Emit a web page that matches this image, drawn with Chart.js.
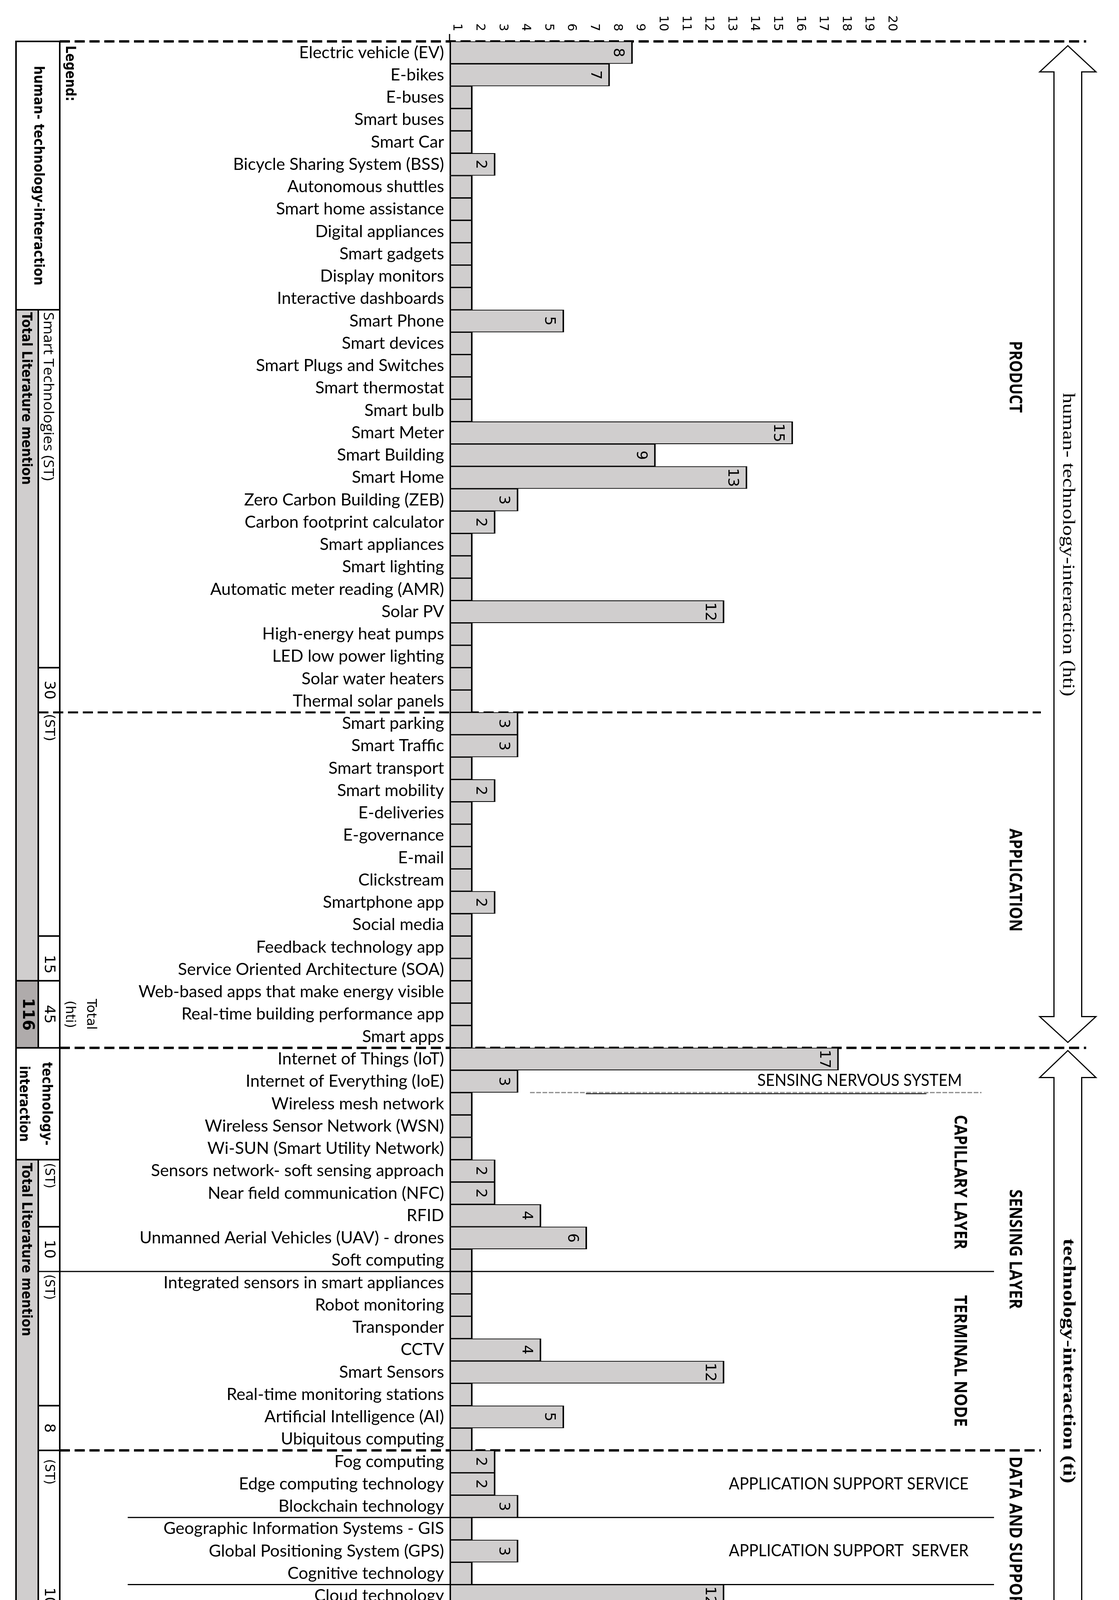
<!DOCTYPE html>
<html><head><meta charset="utf-8">
<script src="https://cdn.jsdelivr.net/npm/chart.js@4.4.1/dist/chart.umd.min.js"></script>
<style>html,body{margin:0;padding:0;background:#fff;}canvas{display:block;}</style>
</head><body>
<canvas id="c" width="2865" height="5693" style="width:2865px;height:5693px"></canvas>
<script>
// ---------------- DATA ----------------
const productLabels = ["Electric vehicle (EV)","E-bikes","E-buses","Smart buses","Smart Car","Bicycle Sharing System (BSS)","Autonomous shuttles","Smart home assistance","Digital appliances","Smart gadgets","Display monitors","Interactive dashboards","Smart Phone","Smart devices","Smart Plugs and Switches","Smart thermostat","Smart bulb","Smart Meter","Smart Building","Smart Home","Zero Carbon Building (ZEB)","Carbon footprint calculator","Smart appliances","Smart lighting","Automatic meter reading (AMR)","Solar PV","High-energy heat pumps","LED low power lighting","Solar water heaters","Thermal solar panels"];
const productValues = [8,7,1,1,1,2,1,1,1,1,1,1,5,1,1,1,1,15,9,13,3,2,1,1,1,12,1,1,1,1];

const applicationLabels = ["Smart parking","Smart Traffic","Smart transport","Smart mobility","E-deliveries","E-governance","E-mail","Clickstream","Smartphone app","Social media","Feedback technology app","Service Oriented Architecture (SOA)","Web-based apps that make energy visible","Real-time building performance app","Smart apps"];
const applicationValues = [3,3,1,2,1,1,1,1,2,1,1,1,1,1,1];

const capillaryLabels = ["Internet of Things (IoT)","Internet of Everything (IoE)","Wireless mesh network","Wireless Sensor Network (WSN)","Wi-SUN (Smart Utility Network)","Sensors network- soft sensing approach","Near field communication (NFC)","RFID","Unmanned Aerial Vehicles (UAV) - drones","Soft computing"];
const capillaryValues = [17,3,1,1,1,2,2,4,6,1];

const terminalLabels = ["Integrated sensors in smart appliances","Robot monitoring","Transponder","CCTV","Smart Sensors","Real-time monitoring stations","Artificial Intelligence (AI)","Ubiquitous computing"];
const terminalValues = [1,1,1,4,12,1,5,1];

const supportServiceLabels = ["Fog computing","Edge computing technology","Blockchain technology"];
const supportServiceValues = [2,2,3];
const supportServerLabels = ["Geographic Information Systems - GIS","Global Positioning System (GPS)","Cognitive technology"];
const supportServerValues = [1,3,1];
const processServiceLabels = ["Cloud technology","Big Data","Big Data analytics","Machine learning and Data mining"];
const processServiceValues = [12,10,1,1];

const systemLabels = ["Smart Grid","Building Energy Management System (BEMS)","Energy Management System (EMS)","Home Energy Management System (HEMS)","Advance metering infrastructure (AMI)","Smart Energy Management System","Smart Thermal Management","Renewal Energy System","Smart Power Strorage","Smart Power Generation","Smart Wind Power","Solar thermal and hydro","Smart environmental monitoring","Smart infrastructure","Charging infrastructure"];
const systemValues = [21,3,2,2,1,1,1,1,1,1,1,1,1,2,1];

const networkLabels = ["Wifi","5G","Beyond 5G (B5G)"];
const networkValues = [6,3,1];
const ictLabels = ["ICT"];
const ictValues = [10];
const blankLabels = ["",""];
const blankValues = [null,null];

const xTickLabels = ["1","2","3","4","5","6","7","8","9","10","11","12","13","14","15","16","17","18","19","20"];

// table figures
const htiTable = ["30","15","45","116"];
const tiTable = ["10","8","10","28","100"];
const esmTable = ["15","40"];
const netTable = ["3","10"];
const ictTable = ["1","10"];
const grandTable = ["92","276"];

// ---------------- BUILD ----------------
const labels = [].concat(productLabels, applicationLabels, capillaryLabels, terminalLabels,
  supportServiceLabels, supportServerLabels, processServiceLabels, systemLabels, networkLabels, ictLabels, blankLabels);
const values = [].concat(productValues, applicationValues, capillaryValues, terminalValues,
  supportServiceValues, supportServerValues, processServiceValues, systemValues, networkValues, ictValues, blankValues);

const iA = productLabels.length;
const iS = iA + applicationLabels.length;
const iT = iS + capillaryLabels.length;
const iD = iT + terminalLabels.length;
const iD2 = iD + supportServiceLabels.length;
const iD3 = iD2 + supportServerLabels.length;
const iM = iD3 + processServiceLabels.length;
const iN = iM + systemLabels.length;
const iI = iN + networkLabels.length;
const iE = iI + ictLabels.length;
const iBot = labels.length;

const BAR_FILL = '#D0CECE', LIGHT = '#D0CECE', DARK = '#AFABAB';
const LABEL_FONT = 'Lato';

function rt(ctx, text, cx, cy, font, len) {
  ctx.save(); ctx.translate(cx, cy); ctx.rotate(Math.PI / 2);
  ctx.font = font; ctx.fillStyle = '#000';
  ctx.textAlign = 'center'; ctx.textBaseline = 'middle';
  if (len) { const w = ctx.measureText(text).width; ctx.scale(len / w, 1); }
  ctx.fillText(text, 0, 0); ctx.restore();
}
function ht(ctx, text, x0, cy, font, len) {
  ctx.save(); ctx.font = font; ctx.fillStyle = '#000';
  ctx.textAlign = 'left'; ctx.textBaseline = 'middle';
  const w = ctx.measureText(text).width;
  ctx.translate(x0, cy); if (len) ctx.scale(len / w, 1);
  ctx.fillText(text, 0, 0); ctx.restore();
}
function line(ctx, x1, y1, x2, y2, w, dash, color) {
  ctx.save(); ctx.beginPath(); ctx.lineWidth = w; ctx.strokeStyle = color || '#000';
  ctx.setLineDash(dash || []); ctx.moveTo(x1, y1); ctx.lineTo(x2, y2); ctx.stroke(); ctx.restore();
}
function arrow(ctx, xc, tipTop, baseTop, baseBot, tipBot) {
  const hh = 72, sh = 35.5;
  ctx.save(); ctx.beginPath();
  ctx.moveTo(xc, tipTop); ctx.lineTo(xc + hh, baseTop); ctx.lineTo(xc + sh, baseTop);
  ctx.lineTo(xc + sh, baseBot); ctx.lineTo(xc + hh, baseBot); ctx.lineTo(xc, tipBot);
  ctx.lineTo(xc - hh, baseBot); ctx.lineTo(xc - sh, baseBot); ctx.lineTo(xc - sh, baseTop);
  ctx.lineTo(xc - hh, baseTop); ctx.closePath();
  ctx.fillStyle = '#fff'; ctx.fill(); ctx.lineWidth = 3; ctx.strokeStyle = '#000'; ctx.stroke();
  ctx.restore();
}

const L = 41, M = 98, R = 153;
const DASH = [26, 12];

const decor = {
  id: 'decor',
  beforeDatasetsDraw(chart) {
    const ctx = chart.ctx, ys = chart.scales.y, xs = chart.scales.x;
    const rowH = ys.getPixelForValue(1) - ys.getPixelForValue(0);
    const B = i => ys.getPixelForValue(i) - rowH / 2;
    const gtBot = B(iBot) + 167;
    ctx.fillStyle = LIGHT; ctx.fillRect(L, B(12), M - L, B(iS - 3) - B(12));
    ctx.fillStyle = DARK;  ctx.fillRect(L, B(iS - 3), M - L, B(iS) - B(iS - 3));
    ctx.fillStyle = LIGHT; ctx.fillRect(L, B(iS + 5), M - L, B(iM - 3) - B(iS + 5));
    ctx.fillStyle = DARK;  ctx.fillRect(L, B(iM - 3), M - L, B(iM) - B(iM - 3));
    ctx.fillStyle = LIGHT; ctx.fillRect(L, B(iM + 6), M - L, B(iN - 2) - B(iM + 6));
    ctx.fillStyle = DARK;  ctx.fillRect(L, B(iN - 2), M - L, B(iBot) - B(iN - 2));
    ctx.fillStyle = LIGHT; ctx.fillRect(L, B(iBot), M - L, gtBot - B(iBot));
    [0, 12, iS - 3, iS, iS + 5, iM - 3, iM, iM + 6, iN - 2, iN, iI, iE, iBot].forEach(i => line(ctx, L - 2, B(i), R + 2, B(i), 4));
    line(ctx, L - 2, gtBot, R + 2, gtBot, 4);
    [iA - 2, iS - 5, iT - 2, iT + 6, iD].forEach(i => line(ctx, M, B(i), R, B(i), 4));
    line(ctx, L, B(0) - 2, L, gtBot + 2, 4);
    line(ctx, R, B(0) - 2, R, gtBot + 2, 4);
    line(ctx, M, B(12), M, B(iS), 4);
    line(ctx, M, B(iS + 5), M, B(iM), 4);
    line(ctx, M, B(iM + 6), M, gtBot, 4);
    const full = 2781, part = 2665;
    line(ctx, R, B(0), full, B(0), 6, DASH);
    line(ctx, M, B(iA), part, B(iA), 5, DASH);
    line(ctx, R, B(iS), full, B(iS), 6, DASH);
    line(ctx, R, B(iD), part, B(iD), 6, DASH);
    line(ctx, R, B(iM), full, B(iM), 6, DASH);
    line(ctx, R, B(iN), full, B(iN), 6, DASH);
    line(ctx, R, B(iI), part, B(iI), 6, DASH);
    line(ctx, R, B(iBot), full, B(iBot), 6, DASH);
    line(ctx, M, B(iT), 2545, B(iT), 3);
    line(ctx, 327, B(iD2), 2545, B(iD2), 3);
    line(ctx, 327, B(iD3), 2545, B(iD3), 3);
    line(ctx, 1500, B(iS + 2) + 3, 2372, B(iS + 2) + 3, 2);
    line(ctx, 1357, B(iS + 2), 2513, B(iS + 2), 3, [12, 4], '#888');
    const x0 = xs.getPixelForValue(0);
    line(ctx, x0, 87, x0, B(0), 3);
  },
  afterDatasetsDraw(chart) {
    const ctx = chart.ctx, ys = chart.scales.y, xs = chart.scales.x;
    const rowH = ys.getPixelForValue(1) - ys.getPixelForValue(0);
    const B = i => ys.getPixelForValue(i) - rowH / 2;
    const mid = (a, b) => (B(a) + B(b)) / 2;

    const meta = chart.getDatasetMeta(0);
    const vf = 38;
    meta.data.forEach((bar, i) => {
      const v = values[i];
      if (v == null || v < 2) return;
      ctx.save();
      ctx.translate(bar.x - 20 - 0.73 * vf, bar.y); ctx.rotate(Math.PI / 2);
      ctx.font = vf + 'px "DejaVu Sans"'; ctx.fillStyle = '#000';
      ctx.textAlign = 'center'; ctx.textBaseline = 'alphabetic';
      ctx.fillText(String(v), 0, 0); ctx.restore();
    });

    xTickLabels.forEach(t => {
      const px = xs.getPixelForValue(Number(t) - 0.68);
      ctx.save(); ctx.font = '32px "DejaVu Sans"'; ctx.fillStyle = '#000'; ctx.textBaseline = 'middle';
      ctx.translate(px, 80); ctx.rotate(Math.PI / 2); ctx.textAlign = 'right'; ctx.fillText(t, 0, 0);
      ctx.restore();
      ctx.save(); ctx.font = '32px "DejaVu Sans"'; ctx.fillStyle = '#000'; ctx.textBaseline = 'middle';
      ctx.translate(px, B(iBot) + 12); ctx.rotate(Math.PI / 2); ctx.textAlign = 'left'; ctx.fillText(t, 0, 0);
      ctx.restore();
    });

    const bold = 'bold 36px "DejaVu Sans"', reg = '34px "DejaVu Sans"', num = '38px "DejaVu Sans"', numB = 'bold 40px "DejaVu Sans"';
    const serifB = 'bold 40px "Liberation Serif"';
    rt(ctx, 'Legend:', 178, B(0) + 82, bold, 143);
    rt(ctx, 'human- technology-interaction', 97, mid(0, 12), bold, 562);
    rt(ctx, 'Total Literature mention', 66, B(12) + 6 + 221, bold, 442);
    rt(ctx, 'Smart Technologies (ST)', 122, B(12) + 6 + 216, '36px "Open Sans"', 432);
    rt(ctx, htiTable[0], 125, mid(iA - 2, iA), num);
    rt(ctx, '(ST)', 125, B(iA) + 4 + 35, reg, 70);
    rt(ctx, htiTable[1], 125, mid(iS - 5, iS - 3) + 15, num);
    rt(ctx, htiTable[2], 125, mid(iS - 3, iS), num);
    rt(ctx, htiTable[3], 69, mid(iS - 3, iS), numB);
    rt(ctx, 'Total', 232, mid(iS - 3, iS), reg);
    rt(ctx, '(hti)', 178, mid(iS - 3, iS), reg);

    rt(ctx, 'technology-', 118, mid(iS, iS + 5), bold, 214);
    rt(ctx, 'interaction', 60, mid(iS, iS + 5), bold, 195);
    rt(ctx, 'Total Literature mention', 66, B(iS + 5) + 8 + 222, bold, 444);
    rt(ctx, '(ST)', 125, B(iS + 5) + 8 + 33, reg, 65);
    rt(ctx, tiTable[0], 125, mid(iT - 2, iT), num);
    rt(ctx, '(ST)', 125, B(iT) + 7 + 33, reg, 65);
    rt(ctx, tiTable[1], 125, mid(iD - 2, iD), num);
    rt(ctx, '(ST)', 125, B(iD) + 22 + 33, reg, 65);
    rt(ctx, tiTable[2], 125, B(iM - 3) - 26, num);
    rt(ctx, tiTable[3], 125, mid(iM - 3, iM), num);
    rt(ctx, tiTable[4], 69, mid(iM - 3, iM), numB);
    rt(ctx, 'Total (ti)', 178, mid(iM - 3, iM), reg, 147);

    rt(ctx, 'energy system', 120, mid(iM, iM + 6), bold, 260);
    rt(ctx, 'management', 66, mid(iM, iM + 6), bold, 238);
    rt(ctx, 'Total Literature', 66, B(iM + 6) + 43 + 150, serifB, 300);
    rt(ctx, '(ST)', 125, B(iM + 6) + 18 + 35, '36px "Liberation Serif"', 70);
    rt(ctx, esmTable[0], 125, mid(iN - 2, iN), num);
    rt(ctx, esmTable[1], 69, mid(iN - 2, iN), serifB);
    rt(ctx, 'Total', 232, mid(iN - 2, iN), reg);
    rt(ctx, '(esm)', 178, mid(iN - 2, iN), reg);

    rt(ctx, netTable[0], 125, B(iI) - 22, num);
    rt(ctx, netTable[1], 69, B(iI) - 28, serifB);
    rt(ctx, ictTable[0], 125, B(iE) - 16, num);
    rt(ctx, ictTable[1], 69, mid(iI, iE), serifB);
    rt(ctx, grandTable[0], 125, B(iBot) + 92, num);
    rt(ctx, grandTable[1], 69, B(iBot) + 87, serifB);
    rt(ctx, 'Grand', 232, B(iBot) + 88, reg);
    rt(ctx, 'total', 178, B(iBot) + 88, reg);

    const XC = 2734;
    arrow(ctx, XC, B(0) + 11, B(0) + 78, B(iS) - 80, B(iS) - 14);
    arrow(ctx, XC, B(iS) + 7, B(iS) + 76, B(iM) - 79, B(iM) - 9);
    arrow(ctx, XC, B(iM) + 12, B(iM) + 81, B(iN) - 70, B(iN) + 2);
    rt(ctx, 'human- technology-interaction (hti)', XC, mid(0, iS), '44px "Liberation Serif"', 777);
    rt(ctx, 'technology-interaction (ti)', XC, mid(iS, iM), 'bold 44px "Liberation Serif"', 627);
    rt(ctx, 'energy system management (esm)', XC, mid(iM, iN), 'bold 40px "Liberation Serif"', 680);

    const sec = 'bold 44px "Open Sans"';
    rt(ctx, 'PRODUCT', 2598, mid(0, iA), sec, 184);
    rt(ctx, 'APPLICATION', 2598, mid(iA, iS), sec, 264);
    rt(ctx, 'CAPILLARY LAYER', 2457, mid(iS + 2, iT), sec, 344);
    rt(ctx, 'SENSING LAYER', 2598, mid(iS, iD), sec, 306);
    rt(ctx, 'TERMINAL NODE', 2457, mid(iT, iD), sec, 337);
    rt(ctx, 'DATA AND SUPPORT LAYER', 2598, mid(iD, iM), sec, 542);
    rt(ctx, 'SYSTEM MANAGEMENT', 2598, mid(iM, iN), sec, 472);
    rt(ctx, 'ICT', 2598, B(iE), sec, 55);

    const hf = '42px ' + LABEL_FONT;
    ht(ctx, 'SENSING NERVOUS SYSTEM', 1939, mid(iS + 1, iS + 2) - 2, hf, 524);
    ht(ctx, 'APPLICATION SUPPORT SERVICE', 1866, mid(iD, iD2), hf, 614);
    ht(ctx, 'APPLICATION SUPPORT  SERVER', 1866, mid(iD2, iD3), hf, 614);
    ht(ctx, 'DATA PROCESS SERVICE', 1866, mid(iD3, iM), hf, 458);
    ht(ctx, 'NET-WORK LAYER', 1928, mid(iN, iI), 'bold 52px ' + LABEL_FONT, 411);
  }
};

new Chart(document.getElementById('c').getContext('2d'), {
  type: 'bar',
  data: {
    labels: labels,
    datasets: [{
      data: values,
      backgroundColor: BAR_FILL,
      borderColor: '#000',
      borderWidth: { top: 2, bottom: 2, left: 4, right: 4 },
      borderSkipped: false,
      barPercentage: 1,
      categoryPercentage: 1
    }]
  },
  options: {
    indexAxis: 'y',
    responsive: false,
    animation: false,
    devicePixelRatio: 1,
    layout: { padding: { top: 106, bottom: 205, left: 0, right: 73 } },
    plugins: { legend: { display: false }, tooltip: { enabled: false } },
    scales: {
      x: { type: 'linear', min: 0, max: 28, display: false },
      y: {
        type: 'category',
        grid: { display: false },
        border: { display: false },
        ticks: { autoSkip: false, color: '#000', font: { family: LABEL_FONT, size: 43 }, padding: 6 },
        afterFit: s => { s.width = 1151; }
      }
    }
  },
  plugins: [decor]
});
</script>
</body></html>
